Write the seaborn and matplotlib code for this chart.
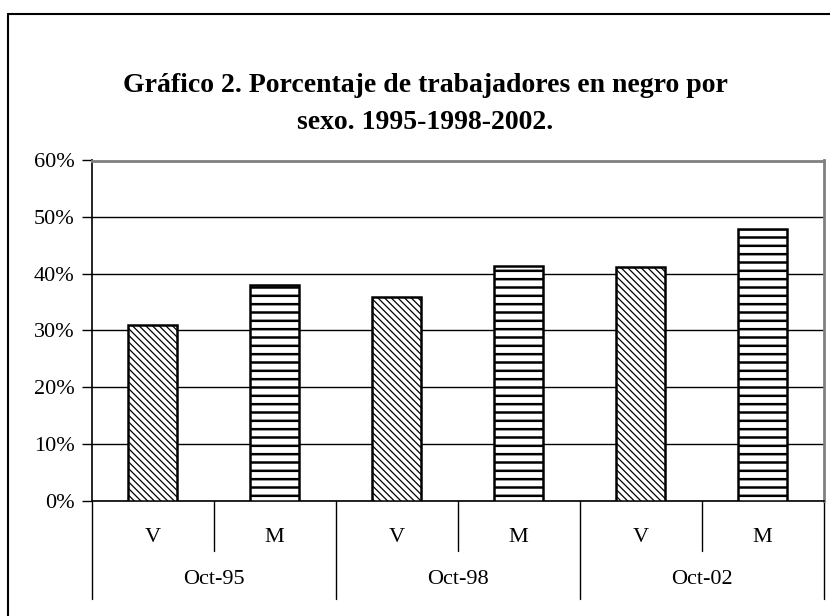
import matplotlib
matplotlib.use("Agg")
import matplotlib.pyplot as plt
import matplotlib.transforms as mtransforms
from matplotlib.ticker import PercentFormatter, MultipleLocator
from matplotlib.lines import Line2D
import seaborn as sns
import pandas as pd

# ---- data ----
periodos = ["Oct-95", "Oct-98", "Oct-02"]
sexos = ["V", "M"]
valores_V = [0.31, 0.36, 0.412]
valores_M = [0.381, 0.414, 0.479]
titulo = "Gráfico 2. Porcentaje de trabajadores en negro por\nsexo. 1995-1998-2002."

rows = []
for p, v, m in zip(periodos, valores_V, valores_M):
    rows.append({"periodo": p, "sexo": "V", "valor": v})
    rows.append({"periodo": p, "sexo": "M", "valor": m})
df = pd.DataFrame(rows)
df["slot"] = df["periodo"] + " " + df["sexo"]
order = list(df["slot"])

sns.set_theme(style="white")
plt.rcParams["font.family"] = ["Liberation Serif", "DejaVu Serif"]
plt.rcParams["hatch.linewidth"] = 0.9

W, H = 830, 616
fig = plt.figure(figsize=(W / 100, H / 100), dpi=100)
fig.patch.set_facecolor("white")

left, right, top, bottom = 91.5, 823.5, 160.5, 500.5
ax = fig.add_axes([left / W, 1 - bottom / H, (right - left) / W, (bottom - top) / H])

sns.barplot(data=df, x="slot", y="valor", order=order, color="white",
            edgecolor="black", linewidth=1.8, width=0.4, ax=ax, zorder=3)

for patch, sx in zip(ax.patches, df["sexo"]):
    patch.set_facecolor("white")
    if sx == "V":
        patch.set_hatch("\\\\\\\\\\")
    else:
        patch.set_hatch("--")
        if hasattr(patch, "set_hatch_linewidth"):
            patch.set_hatch_linewidth(1.8)

ax.set_ylim(0, 0.6)
ax.set_xlim(-0.5, len(order) - 0.5)
ax.yaxis.set_major_locator(MultipleLocator(0.1))
ax.yaxis.set_major_formatter(PercentFormatter(1.0, decimals=0))
ax.grid(axis="y", color="black", linewidth=1.0, zorder=0)
ax.set_axisbelow(True)
ax.set_xlabel("")
ax.set_ylabel("")
ax.set_xticks([])
ax.tick_params(axis="y", which="major", left=True, length=7, width=1,
               color="black", labelsize=16, pad=5, labelcolor="black")
for s in ["top", "right"]:
    ax.spines[s].set_color("#808080")
    ax.spines[s].set_linewidth(2)
ax.spines["left"].set_color("black")
ax.spines["left"].set_linewidth(1.2)
ax.spines["bottom"].set_color("black")
ax.spines["bottom"].set_linewidth(1.2)

# category axis (two levels)
trans = mtransforms.blended_transform_factory(ax.transData, ax.transAxes)
hpx = bottom - top
short_y = -50 / hpx
long_y = -98 / hpx
for i in range(len(order) + 1):
    xpos = i - 0.5
    yend = long_y if i % 2 == 0 else short_y
    ax.add_line(Line2D([xpos, xpos], [0, yend], transform=trans, color="black",
                       linewidth=1.0, clip_on=False))
for i, sl in enumerate(order):
    ax.text(i, -37 / hpx, df["sexo"].iloc[i], transform=trans, ha="center",
            va="center", fontsize=16, color="black")
for j, p in enumerate(periodos):
    ax.text(2 * j + 0.5, -79 / hpx, p, transform=trans, ha="center",
            va="center", fontsize=16, color="black")

fig.text(425 / W, 1 - 104 / H, titulo, ha="center", va="center",
         fontsize=20, fontweight="bold", linespacing=1.6, color="black")

# outer frame
fig.add_artist(Line2D([8 / W, 1], [1 - 14 / H, 1 - 14 / H], transform=fig.transFigure,
                      color="black", linewidth=1.5))
fig.add_artist(Line2D([8 / W, 8 / W], [0, 1 - 14 / H], transform=fig.transFigure,
                      color="black", linewidth=1.5))

fig.savefig("out.png", dpi=100)
